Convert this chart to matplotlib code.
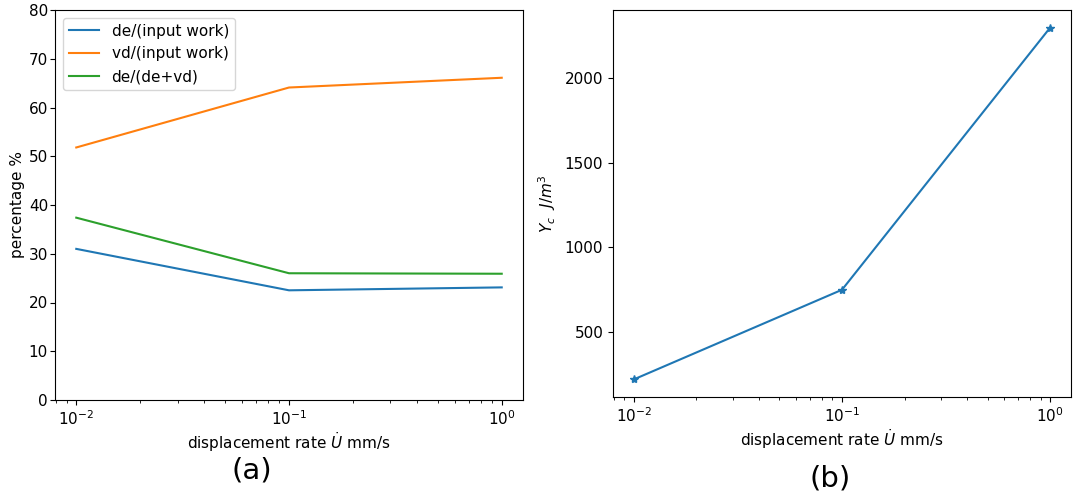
import matplotlib
matplotlib.use("Agg")
import matplotlib.pyplot as plt

# data
rate = [0.01, 0.1, 1.0]
de_input = [31.0, 22.5, 23.1]
vd_input = [51.8, 64.1, 66.1]
de_devd = [37.4, 26.0, 25.9]
yc = [220, 750, 2300]

W, H = 1078, 497
fig = plt.figure(figsize=(W / 100, H / 100), dpi=100)
FS = 11

def box(l, r, b, t):
    return [l / W, 1 - b / H, (r - l) / W, (b - t) / H]

# (a) energy percentages
ax1 = fig.add_axes(box(55, 523, 400, 10))
ax1.plot(rate, de_input, label='de/(input work)')
ax1.plot(rate, vd_input, label='vd/(input work)')
ax1.plot(rate, de_devd, label='de/(de+vd)')
ax1.set_xscale('log')
ax1.set_ylim(0, 80)
ax1.set_ylabel('percentage %', fontsize=FS)
ax1.set_xlabel(r'displacement rate $\dot{U}$ mm/s', fontsize=FS, labelpad=1)
ax1.tick_params(labelsize=FS)
ax1.tick_params(axis='y', pad=1.5)
ax1.yaxis.set_label_coords(-0.065, 0.5)
ax1.legend(loc='upper left', fontsize=FS)

# (b) critical energy density
ax2 = fig.add_axes(box(613, 1071, 397, 10))
ax2.plot(rate, yc, marker='*')
ax2.set_xscale('log')
ax2.set_ylabel(r'$Y_c\ \ J/m^3$', fontsize=FS)
ax2.set_xlabel(r'displacement rate $\dot{U}$ mm/s', fontsize=FS, labelpad=1)
ax2.tick_params(labelsize=FS)
ax2.yaxis.set_label_coords(-0.12, 0.5)

fig.text(252 / W, 1 - 470 / H, '(a)', fontsize=21, ha='center', va='center')
fig.text(830 / W, 1 - 478 / H, '(b)', fontsize=21, ha='center', va='center')

fig.savefig('out.png', dpi=100)
